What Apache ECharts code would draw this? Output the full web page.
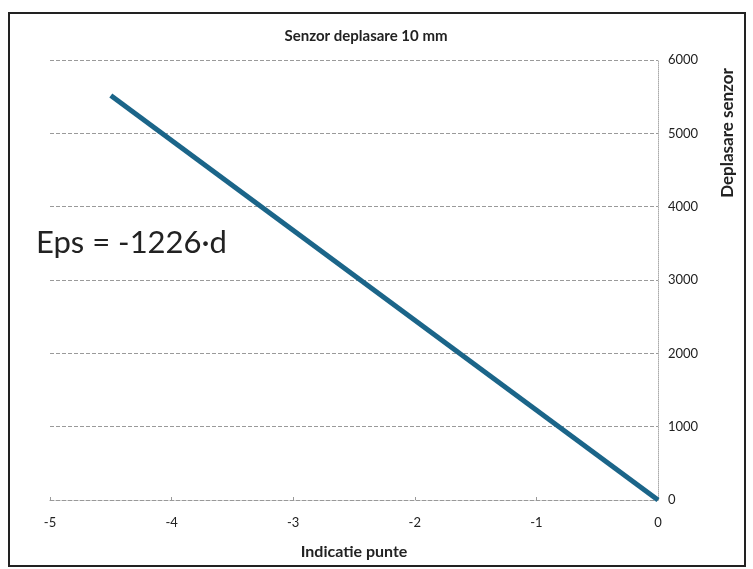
<!DOCTYPE html>
<html>
<head>
<meta charset="utf-8">
<script src="https://cdn.jsdelivr.net/npm/echarts@6/dist/echarts.min.js"></script>
<style>
  html, body { margin: 0; padding: 0; background: #fff; }
  #lineChart { width: 753px; height: 569px; }
</style>
</head>
<body>
<div id="lineChart"></div>
<script>
// date
var xData = [-4.5, 0];
var yData = [5517, 0];
var xTicks = [-5, -4, -3, -2, -1, 0];
var yTicks = [0, 1000, 2000, 3000, 4000, 5000, 6000];

var points = xData.map(function (x, i) { return [x, yData[i]]; });
var font = "Lato, 'Open Sans', sans-serif";

var option = {
  backgroundColor: "#fff",
  animation: false,
  title: {
    text: "Senzor deplasare 10 mm",
    left: 361,
    textAlign: "center",
    top: 24,
    textStyle: { fontSize: 15, fontWeight: "bold", color: "#222", fontFamily: font }
  },
  grid: { left: 50, right: 95, top: 60, bottom: 69 },
  xAxis: {
    type: "value",
    min: xTicks[0],
    max: xTicks[xTicks.length - 1],
    interval: 1,
    name: "Indicatie punte",
    nameLocation: "middle",
    nameGap: 44,
    nameTextStyle: { fontSize: 16, fontWeight: "bold", color: "#222", fontFamily: font },
    axisLine: { onZero: false, lineStyle: { color: "#999", type: "dashed", width: 1 } },
    axisTick: { show: true, inside: true, length: 3, lineStyle: { color: "#999" } },
    axisLabel: { margin: 16, fontSize: 13, color: "#222", fontFamily: font },
    splitLine: { show: false }
  },
  yAxis: {
    type: "value",
    position: "right",
    min: yTicks[0],
    max: yTicks[yTicks.length - 1],
    interval: 1000,
    axisLine: { show: true, lineStyle: { color: "#aaa", type: "dotted", width: 1 } },
    axisTick: { show: false },
    axisLabel: {
      margin: 10, fontSize: 13, color: "#222", fontFamily: font,
      formatter: function (v) { return String(v); }
    },
    splitLine: { show: true, lineStyle: { color: "#9a9a9a", type: "dashed", width: 1 } }
  },
  series: [
    {
      type: "line",
      data: points,
      symbol: "none",
      lineStyle: { color: "#1b6589", width: 5 }
    }
  ],
  graphic: [
    {
      type: "rect",
      shape: { x: 9, y: 13, width: 736, height: 553 },
      style: { fill: "none", stroke: "#222", lineWidth: 2 },
      silent: true
    },
    {
      type: "text",
      x: 36,
      y: 227,
      style: { text: "Eps = -1226·d", fontSize: 31, fill: "#222", fontFamily: font }
    },
    {
      type: "text",
      x: 728,
      y: 133,
      rotation: Math.PI / 2,
      style: {
        text: "Deplasare senzor",
        fontSize: 17,
        fontWeight: "bold",
        fill: "#222",
        fontFamily: font,
        textAlign: "center",
        textVerticalAlign: "middle"
      }
    }
  ]
};

var myChart = echarts.init(document.getElementById("lineChart"));
myChart.setOption(option);
</script>
</body>
</html>
